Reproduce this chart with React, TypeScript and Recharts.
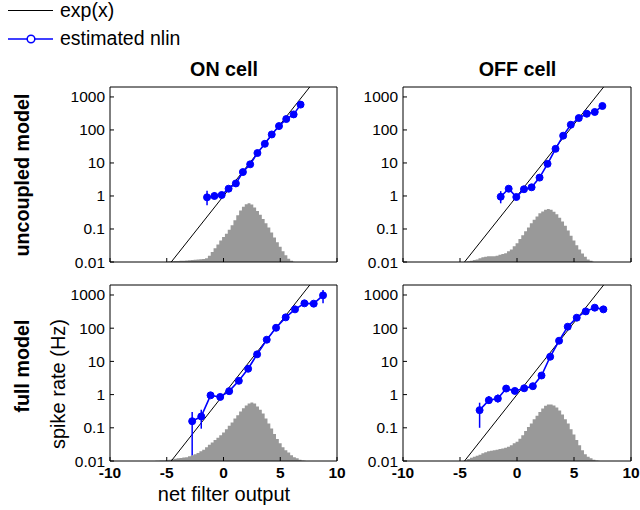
import React from 'react';
import { ComposedChart, Area, Line, XAxis, YAxis, ErrorBar } from 'recharts';

const FONT = '"Liberation Sans", Arial, Helvetica, sans-serif';
const BLUE = '#0000ff';
const GRAY = '#999999';

const xTicks = [-10, -5, 0, 5, 10];
const yTicks = [0.01, 0.1, 1, 10, 100, 1000];
const xDomain = [-10, 10];
const yDomain = [0.01, 2000];

// exp(x) reference line endpoints (read where it enters / leaves the box)
const expX = [-4.605, 7.6];
const expY = [0.01, 2000];

// ---------- histograms (bin centres, heights) ----------
const histX_TL = [-5, -4.75, -4.5, -4.25, -4, -3.75, -3.5, -3.25, -3, -2.75, -2.5, -2.25, -2, -1.75, -1.5, -1.25, -1, -0.75, -0.5, -0.25, 0, 0.25, 0.5, 0.75, 1, 1.25, 1.5, 1.75, 2, 2.25, 2.5, 2.75, 3, 3.25, 3.5, 3.75, 4, 4.25, 4.5, 4.75, 5, 5.25, 5.5, 5.75, 6, 6.25];
const histH_TL = [0.0102, 0.0105, 0.0106, 0.0107, 0.0108, 0.011, 0.011, 0.0112, 0.0113, 0.0115, 0.0117, 0.012, 0.0122, 0.0124, 0.013, 0.0155, 0.02, 0.026, 0.034, 0.045, 0.057, 0.072, 0.095, 0.13, 0.185, 0.26, 0.36, 0.47, 0.56, 0.6, 0.55, 0.45, 0.35, 0.27, 0.2, 0.15, 0.11, 0.078, 0.055, 0.04, 0.029, 0.021, 0.016, 0.0125, 0.011, 0.0102];

const histX_TR = [-4.5, -4.25, -4, -3.75, -3.5, -3.25, -3, -2.75, -2.5, -2.25, -2, -1.75, -1.5, -1.25, -1, -0.75, -0.5, -0.25, 0, 0.25, 0.5, 0.75, 1, 1.25, 1.5, 1.75, 2, 2.25, 2.5, 2.75, 3, 3.25, 3.5, 3.75, 4, 4.25, 4.5, 4.75, 5, 5.25, 5.5, 5.75, 6, 6.25, 6.5, 6.75];
const histH_TR = [0.0101, 0.0105, 0.011, 0.0115, 0.012, 0.013, 0.014, 0.0145, 0.015, 0.015, 0.015, 0.0155, 0.0165, 0.0175, 0.0185, 0.021, 0.024, 0.03, 0.037, 0.05, 0.065, 0.085, 0.11, 0.15, 0.19, 0.24, 0.3, 0.34, 0.38, 0.4, 0.38, 0.33, 0.28, 0.22, 0.17, 0.125, 0.09, 0.062, 0.045, 0.032, 0.024, 0.018, 0.0145, 0.012, 0.011, 0.0102];

const histX_BL = [-6, -5.75, -5.5, -5.25, -5, -4.75, -4.5, -4.25, -4, -3.75, -3.5, -3.25, -3, -2.75, -2.5, -2.25, -2, -1.75, -1.5, -1.25, -1, -0.75, -0.5, -0.25, 0, 0.25, 0.5, 0.75, 1, 1.25, 1.5, 1.75, 2, 2.25, 2.5, 2.75, 3, 3.25, 3.5, 3.75, 4, 4.25, 4.5, 4.75, 5, 5.25, 5.5, 5.75, 6, 6.25, 6.5, 6.75, 7, 7.25];
const histH_BL = [0.0101, 0.0102, 0.0103, 0.0104, 0.0106, 0.0109, 0.0112, 0.0116, 0.012, 0.0123, 0.0127, 0.013, 0.014, 0.015, 0.016, 0.0175, 0.0195, 0.022, 0.026, 0.031, 0.036, 0.043, 0.05, 0.06, 0.072, 0.09, 0.115, 0.145, 0.19, 0.24, 0.31, 0.39, 0.47, 0.54, 0.58, 0.54, 0.44, 0.35, 0.27, 0.19, 0.135, 0.095, 0.065, 0.046, 0.034, 0.026, 0.021, 0.018, 0.015, 0.013, 0.012, 0.011, 0.0104, 0.0101];

const histX_BR = [-4.75, -4.5, -4.25, -4, -3.75, -3.5, -3.25, -3, -2.75, -2.5, -2.25, -2, -1.75, -1.5, -1.25, -1, -0.75, -0.5, -0.25, 0, 0.25, 0.5, 0.75, 1, 1.25, 1.5, 1.75, 2, 2.25, 2.5, 2.75, 3, 3.25, 3.5, 3.75, 4, 4.25, 4.5, 4.75, 5, 5.25, 5.5, 5.75, 6, 6.25, 6.5, 6.75, 7, 7.25];
const histH_BR = [0.0101, 0.0105, 0.0115, 0.0125, 0.0135, 0.0145, 0.0155, 0.017, 0.0185, 0.0195, 0.0205, 0.021, 0.022, 0.023, 0.024, 0.025, 0.027, 0.03, 0.034, 0.038, 0.047, 0.06, 0.08, 0.105, 0.135, 0.18, 0.23, 0.3, 0.38, 0.46, 0.5, 0.5, 0.47, 0.41, 0.33, 0.25, 0.18, 0.135, 0.09, 0.063, 0.043, 0.03, 0.021, 0.016, 0.0135, 0.012, 0.011, 0.0104, 0.0101];

// ---------- estimated nonlinearity (x, y, error low, error high) ----------
const nlX_TL = [-1.45, -0.8, -0.16, 0.45, 1.09, 1.71, 2.35, 2.99, 3.64, 4.25, 4.89, 5.53, 6.18, 6.79];
const nlY_TL = [0.91, 1.0, 1.07, 1.66, 2.4, 5.3, 9.1, 20, 38, 73, 131, 214, 296, 585];
const nlLo_TL = [0.52, 0.8, 0.95, 1.66, 2.4, 5.3, 9.1, 20, 38, 73, 131, 214, 296, 585];
const nlHi_TL = [1.45, 1.3, 1.2, 1.66, 2.4, 5.3, 9.1, 20, 38, 73, 131, 214, 296, 585];

const nlX_TR = [-1.43, -0.73, -0.06, 0.61, 1.28, 1.98, 2.68, 3.38, 4.05, 4.72, 5.42, 6.12, 6.82, 7.49];
const nlY_TR = [0.95, 1.66, 0.93, 1.6, 1.83, 3.6, 9.4, 26.8, 67, 144, 229, 310, 350, 532];
const nlLo_TR = [0.6, 1.4, 0.93, 1.6, 1.83, 3.6, 9.4, 26.8, 67, 144, 229, 310, 350, 532];
const nlHi_TR = [1.4, 1.9, 0.93, 1.6, 1.83, 3.6, 9.4, 26.8, 67, 144, 229, 310, 350, 532];

const nlX_BL = [-2.76, -1.96, -1.14, -0.29, 0.5, 1.35, 2.17, 2.96, 3.81, 4.63, 5.48, 6.3, 7.13, 7.95, 8.77];
const nlY_BL = [0.158, 0.22, 0.95, 0.85, 1.27, 2.6, 6.0, 16.3, 45, 103, 212, 369, 560, 548, 975];
const nlLo_BL = [0.015, 0.094, 0.85, 0.85, 1.27, 2.6, 6.0, 16.3, 45, 103, 212, 369, 560, 548, 560];
const nlHi_BL = [0.3, 0.35, 1.1, 0.85, 1.27, 2.6, 6.0, 16.3, 45, 103, 212, 369, 560, 548, 1415];

const nlX_BR = [-3.28, -2.47, -1.68, -0.95, -0.19, 0.63, 1.39, 2.15, 2.91, 3.69, 4.45, 5.24, 6.03, 6.82, 7.58];
const nlY_BR = [0.34, 0.68, 0.76, 1.52, 1.29, 1.55, 1.79, 3.76, 13.8, 41.9, 111, 207, 321, 415, 369];
const nlLo_BR = [0.1, 0.52, 0.58, 1.52, 1.29, 1.55, 1.79, 3.76, 13.8, 41.9, 111, 207, 321, 415, 369];
const nlHi_BR = [0.57, 0.9, 1.0, 1.52, 1.29, 1.55, 1.79, 3.76, 13.8, 41.9, 111, 207, 321, 415, 369];

// ---------- table builders ----------
const histRows = (xs: number[], hs: number[]) => xs.map((x, i) => ({ x, h: hs[i] }));
const nlRows = (xs: number[], ys: number[], lo: number[], hi: number[]) =>
  xs.map((x, i) => ({ x, y: ys[i], err: [ys[i] - lo[i], hi[i] - ys[i]] }));
const expRows = expX.map((x, i) => ({ x, y: expY[i] }));

const tickStyle = { fill: '#000', fontSize: 15.5, fontFamily: FONT };

function Panel({ px, py, pw, ph, hist, nl, xLabels }: any) {
  const yw = 60; // left axis width
  const mt = 8; // top margin
  const topH = 1; // top (frame) axis height
  const rightW = 1; // right (frame) axis width
  const mr = 10;
  const xh = 30;
  return (
    <div style={{ position: 'absolute', left: px - yw, top: py - mt - topH }}>
      <ComposedChart
        width={yw + pw + rightW + mr}
        height={mt + topH + ph + xh}
        data={hist}
        margin={{ top: mt, right: mr, bottom: 0, left: 0 }}
      >
        <XAxis
          xAxisId="b"
          dataKey="x"
          type="number"
          domain={xDomain}
          ticks={xTicks}
          interval={0}
          allowDataOverflow
          height={xh}
          tickSize={-4}
          tickMargin={10}
          stroke="#000"
          tick={{ ...tickStyle, fontWeight: 'bold' }}
          tickFormatter={xLabels ? (v: number) => String(v) : () => ''}
        />
        <XAxis
          xAxisId="t"
          orientation="top"
          dataKey="x"
          type="number"
          domain={xDomain}
          ticks={xTicks}
          interval={0}
          allowDataOverflow
          height={topH}
          tickSize={-4}
          stroke="#000"
          tick={false}
        />
        <YAxis
          yAxisId="l"
          type="number"
          scale="log"
          domain={yDomain}
          ticks={yTicks}
          interval={0}
          allowDataOverflow
          width={yw}
          tickSize={-4}
          tickMargin={9}
          stroke="#000"
          tick={tickStyle}
          tickFormatter={(v: number) => String(v)}
        />
        <YAxis
          yAxisId="r"
          orientation="right"
          type="number"
          scale="log"
          domain={yDomain}
          ticks={yTicks}
          interval={0}
          allowDataOverflow
          width={rightW}
          tickSize={-4}
          stroke="#000"
          tick={false}
        />
        <Area
          xAxisId="b"
          yAxisId="l"
          dataKey="h"
          type="step"
          fill={GRAY}
          fillOpacity={1}
          stroke="none"
          baseValue={0.01}
          isAnimationActive={false}
        />
        <Line
          xAxisId="b"
          yAxisId="l"
          data={expRows}
          dataKey="y"
          stroke="#000"
          strokeWidth={1}
          dot={false}
          isAnimationActive={false}
        />
        <Line
          xAxisId="b"
          yAxisId="l"
          data={nl}
          dataKey="y"
          stroke={BLUE}
          strokeWidth={1.6}
          dot={{ r: 3.5, fill: BLUE, stroke: BLUE, strokeWidth: 1 }}
          isAnimationActive={false}
        >
          <ErrorBar dataKey="err" direction="y" width={0} stroke={BLUE} strokeWidth={1.5} />
        </Line>
      </ComposedChart>
    </div>
  );
}

export default function App() {
  return (
    <div
      style={{
        position: 'absolute',
        left: 0,
        top: 0,
        width: 640,
        height: 510,
        background: '#fff',
        fontFamily: FONT,
        overflow: 'hidden',
      }}
    >
      <Panel px={110} py={87} pw={227} ph={175} hist={histRows(histX_TL, histH_TL)} nl={nlRows(nlX_TL, nlY_TL, nlLo_TL, nlHi_TL)} xLabels={false} />
      <Panel px={403} py={87} pw={228} ph={175} hist={histRows(histX_TR, histH_TR)} nl={nlRows(nlX_TR, nlY_TR, nlLo_TR, nlHi_TR)} xLabels={false} />
      <Panel px={110} py={285} pw={227} ph={176} hist={histRows(histX_BL, histH_BL)} nl={nlRows(nlX_BL, nlY_BL, nlLo_BL, nlHi_BL)} xLabels={true} />
      <Panel px={403} py={285} pw={228} ph={176} hist={histRows(histX_BR, histH_BR)} nl={nlRows(nlX_BR, nlY_BR, nlLo_BR, nlHi_BR)} xLabels={true} />
      <svg
        width={640}
        height={510}
        style={{ position: 'absolute', left: 0, top: 0, pointerEvents: 'none' }}
        fontFamily={FONT}
      >
        {/* legend */}
        <line x1={8} x2={53} y1={10.5} y2={10.5} stroke="#000" strokeWidth={1} />
        <text x={60} y={17} fontSize={19.5} fill="#000">exp(x)</text>
        <line x1={8} x2={53} y1={39} y2={39} stroke={BLUE} strokeWidth={1.5} />
        <circle cx={31} cy={39} r={3.8} fill="#fff" stroke={BLUE} strokeWidth={1.5} />
        <text x={60} y={45} fontSize={19.5} fill="#000">estimated nlin</text>
        {/* column titles */}
        <text x={224} y={76} fontSize={19.7} fontWeight="bold" textAnchor="middle" fill="#000">ON cell</text>
        <text x={517.5} y={76} fontSize={19.7} fontWeight="bold" textAnchor="middle" fill="#000">OFF cell</text>
        {/* row labels */}
        <text transform="translate(28.5,175) rotate(-90)" fontSize={19.7} fontWeight="bold" textAnchor="middle" fill="#000">uncoupled model</text>
        <text transform="translate(28.5,366) rotate(-90)" fontSize={19.7} fontWeight="bold" textAnchor="middle" fill="#000">full model</text>
        <text transform="translate(65,384) rotate(-90)" fontSize={20} textAnchor="middle" fill="#000">spike rate (Hz)</text>
        {/* x label */}
        <text x={224} y={501} fontSize={20} textAnchor="middle" fill="#000">net filter output</text>
      </svg>
    </div>
  );
}
